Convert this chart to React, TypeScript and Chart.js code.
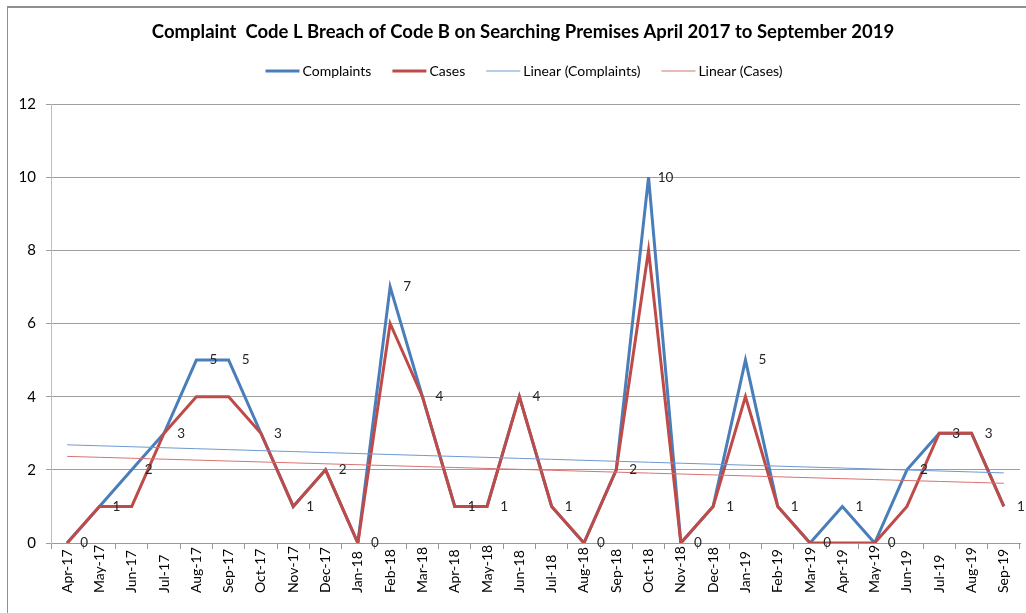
import React, { useEffect, useRef } from "react";
import { Chart, registerables } from "chart.js";

Chart.register(...registerables);

const categories = [
  "Apr-17", "May-17", "Jun-17", "Jul-17", "Aug-17", "Sep-17", "Oct-17", "Nov-17", "Dec-17", "Jan-18",
  "Feb-18", "Mar-18", "Apr-18", "May-18", "Jun-18", "Jul-18", "Aug-18", "Sep-18", "Oct-18", "Nov-18",
  "Dec-18", "Jan-19", "Feb-19", "Mar-19", "Apr-19", "May-19", "Jun-19", "Jul-19", "Aug-19", "Sep-19",
];
const complaints = [0, 1, 2, 3, 5, 5, 3, 1, 2, 0, 7, 4, 1, 1, 4, 1, 0, 2, 10, 0, 1, 5, 1, 0, 1, 0, 2, 3, 3, 1];
const cases = [0, 1, 1, 3, 4, 4, 3, 1, 2, 0, 6, 4, 1, 1, 4, 1, 0, 2, 8, 0, 1, 4, 1, 0, 0, 0, 1, 3, 3, 1];
const yMin = 0;
const yMax = 12;
const yStep = 2;
const titleText = "Complaint  Code L Breach of Code B on Searching Premises April 2017 to September 2019";
const seriesNames = ["Complaints", "Cases", "Linear (Complaints)", "Linear (Cases)"];

const BLUE = "#4A7EBB";
const RED = "#BE4B48";
const BLUE_T = "#6E98CF";
const RED_T = "#D77371";
const FONT = "Lato, 'Open Sans', sans-serif";

function linearFit(values: number[]): number[] {
  const n = values.length;
  let sx = 0, sy = 0, sxx = 0, sxy = 0;
  values.forEach((v, i) => {
    const x = i + 1;
    sx += x; sy += v; sxx += x * x; sxy += x * v;
  });
  const b = (n * sxy - sx * sy) / (n * sxx - sx * sx);
  const a = (sy - b * sx) / n;
  return values.map((_, i) => a + b * (i + 1));
}

const decorPlugin = {
  id: "decor",
  afterDatasetsDraw(chart: any) {
    const ctx = chart.ctx;
    ctx.save();
    ctx.font = `13.5px ${FONT}`;
    ctx.fillStyle = "#262626";
    ctx.textAlign = "center";
    ctx.textBaseline = "middle";
    const meta = chart.getDatasetMeta(0);
    meta.data.forEach((pt: any, i: number) => {
      ctx.fillText(String(complaints[i]), pt.x + 17, pt.y);
    });
    ctx.restore();
  },
  afterDraw(chart: any) {
    const ctx = chart.ctx;
    const xs = chart.scales.x;
    ctx.save();
    // title
    ctx.font = `bold 18.5px ${FONT}`;
    ctx.fillStyle = "#000";
    ctx.textAlign = "center";
    ctx.textBaseline = "middle";
    ctx.fillText(titleText, 523, 32);

    // legend
    ctx.font = `14px ${FONT}`;
    const ds = chart.data.datasets;
    const lineW = 34;
    const gap = 3;
    const spacing = 21;
    const widths = seriesNames.map((n) => lineW + gap + ctx.measureText(n).width);
    const total = widths.reduce((a, b) => a + b, 0) + spacing * (widths.length - 1);
    let x = 524 - total / 2;
    const ly = 71;
    seriesNames.forEach((name, i) => {
      const d = ds.find((q: any) => q.label === name);
      ctx.beginPath();
      ctx.strokeStyle = d.borderColor;
      ctx.lineWidth = d.borderWidth;
      ctx.moveTo(x, ly);
      ctx.lineTo(x + lineW, ly);
      ctx.stroke();
      ctx.fillStyle = "#000";
      ctx.textAlign = "left";
      ctx.fillText(name, x + lineW + gap, ly);
      x += widths[i] + spacing;
    });

    // x tick labels, rotated, reading upward
    ctx.font = `14px ${FONT}`;
    ctx.fillStyle = "#000";
    categories.forEach((c, i) => {
      const px = xs.getPixelForValue(i);
      ctx.save();
      ctx.translate(px, 593);
      ctx.rotate(-Math.PI / 2);
      ctx.textAlign = "left";
      ctx.textBaseline = "middle";
      ctx.fillText(c, 0, 0);
      ctx.restore();
    });
    ctx.restore();
  },
};

export default function App() {
  const ref = useRef<HTMLCanvasElement | null>(null);

  useEffect(() => {
    if (!ref.current) return;
    const trendC = linearFit(complaints);
    const trendK = linearFit(cases);
    const chart = new Chart(ref.current, {
      type: "line",
      data: {
        labels: categories,
        datasets: [
          { label: seriesNames[0], data: complaints, borderColor: BLUE, backgroundColor: BLUE, borderWidth: 3, pointRadius: 0, order: 2, tension: 0 },
          { label: seriesNames[1], data: cases, borderColor: RED, backgroundColor: RED, borderWidth: 3, pointRadius: 0, order: 1, tension: 0 },
          { label: seriesNames[2], data: trendC, borderColor: BLUE_T, backgroundColor: BLUE_T, borderWidth: 1, pointRadius: 0, order: 0 },
          { label: seriesNames[3], data: trendK, borderColor: RED_T, backgroundColor: RED_T, borderWidth: 1, pointRadius: 0, order: 0 },
        ],
      },
      options: {
        responsive: false,
        animation: false,
        devicePixelRatio: 1,
        layout: { padding: { top: 104, left: 18, right: 6, bottom: 0 } },
        plugins: {
          legend: { display: false },
          title: { display: false },
          tooltip: { enabled: false },
        },
        scales: {
          x: {
            type: "category",
            offset: true,
            grid: { display: true, drawOnChartArea: false, drawTicks: true, tickLength: 6, color: "#999999", offset: true },
            border: { display: true, color: "#999999", width: 1 },
            ticks: { display: false, autoSkip: false },
            afterFit: (s: any) => { s.height = 70; },
          },
          y: {
            min: yMin,
            max: yMax,
            ticks: { stepSize: yStep, font: { family: FONT, size: 15 }, color: "#000", padding: 10 },
            grid: { color: "#9E9E9E", tickLength: 5, drawTicks: true },
            border: { display: true, color: "#BDBDBD", width: 1 },
            afterFit: (s: any) => { s.width = 33; },
          },
        },
      },
      plugins: [decorPlugin],
    });
    return () => chart.destroy();
  }, []);

  return (
    <div style={{ position: "fixed", left: 0, top: 0, width: 1026, height: 613, overflow: "hidden", background: "#fff" }}>
      <div style={{ position: "absolute", left: 7, top: 6, width: 1100, height: 700, borderTop: "2px solid #8f8f8f", borderLeft: "1px solid #8f8f8f" }} />
      <canvas ref={ref} width={1026} height={613} style={{ position: "absolute", left: 0, top: 0, width: 1026, height: 613 }} />
    </div>
  );
}
